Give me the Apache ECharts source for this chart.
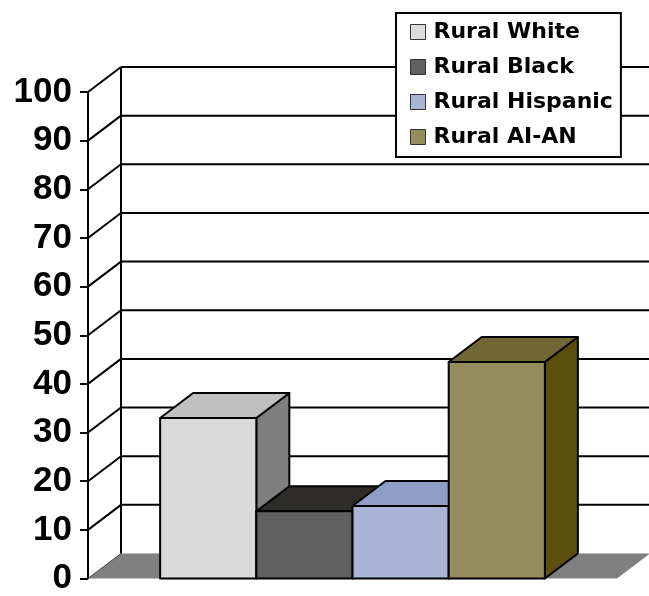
<!DOCTYPE html>
<html>
<head>
<meta charset="utf-8">
<script src="https://cdn.jsdelivr.net/npm/echarts@6/dist/echarts.min.js"></script>
<style>
  html, body { margin: 0; padding: 0; background: #ffffff; }
  #chart { width: 649px; height: 596px; }
</style>
</head>
<body>
<div id="chart"></div>
<script>
// Chart data
const categories = [''];
const seriesNames = ['Rural White', 'Rural Black', 'Rural Hispanic', 'Rural AI-AN'];
const seriesValues = [33, 13.8, 14.9, 44.5];
const yTicks = [0, 10, 20, 30, 40, 50, 60, 70, 80, 90, 100];

// Face colours of each 3D column: front, top, right side
const frontColors = ['#DADADA', '#606060', '#AAB4D4', '#958C5E'];
const topColors = ['#C0C0C0', '#2E2C28', '#8E9EC6', '#716733'];
const sideColors = ['#7F7F7F', '#3A3A3A', '#6F7FA8', '#5C4F0C'];

// Oblique projection offset of the chart depth (pixels)
const DX = 33;
const DY = -25;
// Excel-like gap width of 150% on each side of the column group
const GAP = 0.75;

const chart = echarts.init(document.getElementById('chart'), null, { renderer: 'canvas' });

// Walls: floor, back-wall gridlines and side-wall diagonals at each tick
function renderWalls(params, api) {
  const cs = params.coordSys;
  const v = api.value(1);
  const y = api.coord([0, v])[1];
  const left = cs.x;
  const right = cs.x + cs.width;
  const lineStyle = { stroke: '#000', lineWidth: 2 };
  const children = [];
  if (v === yTicks[0]) {
    const yTop = api.coord([0, yTicks[yTicks.length - 1]])[1];
    children.push({
      type: 'polygon',
      shape: { points: [[left, y], [right, y], [right + DX, y + DY], [left + DX, y + DY]] },
      style: { fill: '#808080' }
    });
    children.push({
      type: 'line',
      shape: { x1: left, y1: y, x2: left + DX, y2: y + DY },
      style: { stroke: '#404040', lineWidth: 1 }
    });
    children.push({
      type: 'line',
      shape: { x1: left + DX, y1: y + DY, x2: left + DX, y2: yTop + DY },
      style: lineStyle
    });
  } else {
    children.push({
      type: 'line',
      shape: { x1: left + DX, y1: y + DY, x2: right + DX + 10, y2: y + DY },
      style: lineStyle
    });
    children.push({
      type: 'line',
      shape: { x1: left, y1: y, x2: left + DX, y2: y + DY },
      style: lineStyle
    });
  }
  return { type: 'group', children: children };
}

// One 3D column per series, placed side by side within the category band
function makeColumnRenderer(i) {
  return function (params, api) {
    const cs = params.coordSys;
    const band = api.size([1, 0])[0];
    const w = band / (seriesNames.length + 2 * GAP);
    const x0 = cs.x + GAP * w + i * w;
    const x1 = x0 + w;
    const yt = api.coord([0, api.value(1)])[1];
    const yb = api.coord([0, 0])[1];
    const edge = { stroke: '#000', lineWidth: 2, lineJoin: 'round' };
    return {
      type: 'group',
      children: [
        {
          type: 'polygon',
          shape: { points: [[x1, yt], [x1 + DX, yt + DY], [x1 + DX, yb + DY], [x1, yb]] },
          style: Object.assign({ fill: sideColors[i] }, edge)
        },
        {
          type: 'polygon',
          shape: { points: [[x0, yt], [x1, yt], [x1 + DX, yt + DY], [x0 + DX, yt + DY]] },
          style: Object.assign({ fill: topColors[i] }, edge)
        },
        {
          type: 'rect',
          shape: { x: x0, y: yt, width: w, height: yb - yt },
          style: Object.assign({ fill: frontColors[i] }, edge)
        }
      ]
    };
  };
}

const series = [
  {
    type: 'custom',
    name: 'walls',
    silent: true,
    renderItem: renderWalls,
    data: yTicks.map(function (v) { return [0, v]; }),
    z: 1
  }
].concat(seriesNames.map(function (name, i) {
  return {
    type: 'custom',
    name: name,
    silent: true,
    renderItem: makeColumnRenderer(i),
    itemStyle: { color: frontColors[i] },
    data: [[0, seriesValues[i]]],
    z: 2
  };
}));

chart.setOption({
  animation: false,
  backgroundColor: '#ffffff',
  grid: { left: 88, right: 32, top: 92, bottom: 15, containLabel: false },
  xAxis: {
    type: 'category',
    data: categories,
    show: false
  },
  yAxis: {
    type: 'value',
    min: 0,
    max: 100,
    interval: 10,
    axisLine: { show: true, lineStyle: { color: '#000', width: 2 } },
    axisTick: { show: true, inside: false, length: 8, lineStyle: { color: '#000', width: 2 } },
    axisLabel: {
      margin: 16,
      color: '#000',
      fontFamily: '"Liberation Sans", Arial, sans-serif',
      fontWeight: 'bold',
      fontSize: 35
    },
    splitLine: { show: false }
  },
  legend: {
    data: seriesNames,
    orient: 'vertical',
    left: 396,
    top: 13,
    selectedMode: false,
    backgroundColor: '#ffffff',
    borderColor: '#000',
    borderWidth: 2,
    borderRadius: 0,
    padding: [8, 8, 9, 14],
    itemGap: 13,
    itemWidth: 15,
    itemHeight: 15,
    icon: 'rect',
    itemStyle: { borderColor: '#333', borderWidth: 1 },
    textStyle: {
      color: '#000',
      fontFamily: 'DejaVu Sans',
      fontWeight: 'bold',
      fontSize: 22,
      lineHeight: 22,
      padding: [0, 0, 0, 3]
    }
  },
  series: series
});
</script>
</body>
</html>
